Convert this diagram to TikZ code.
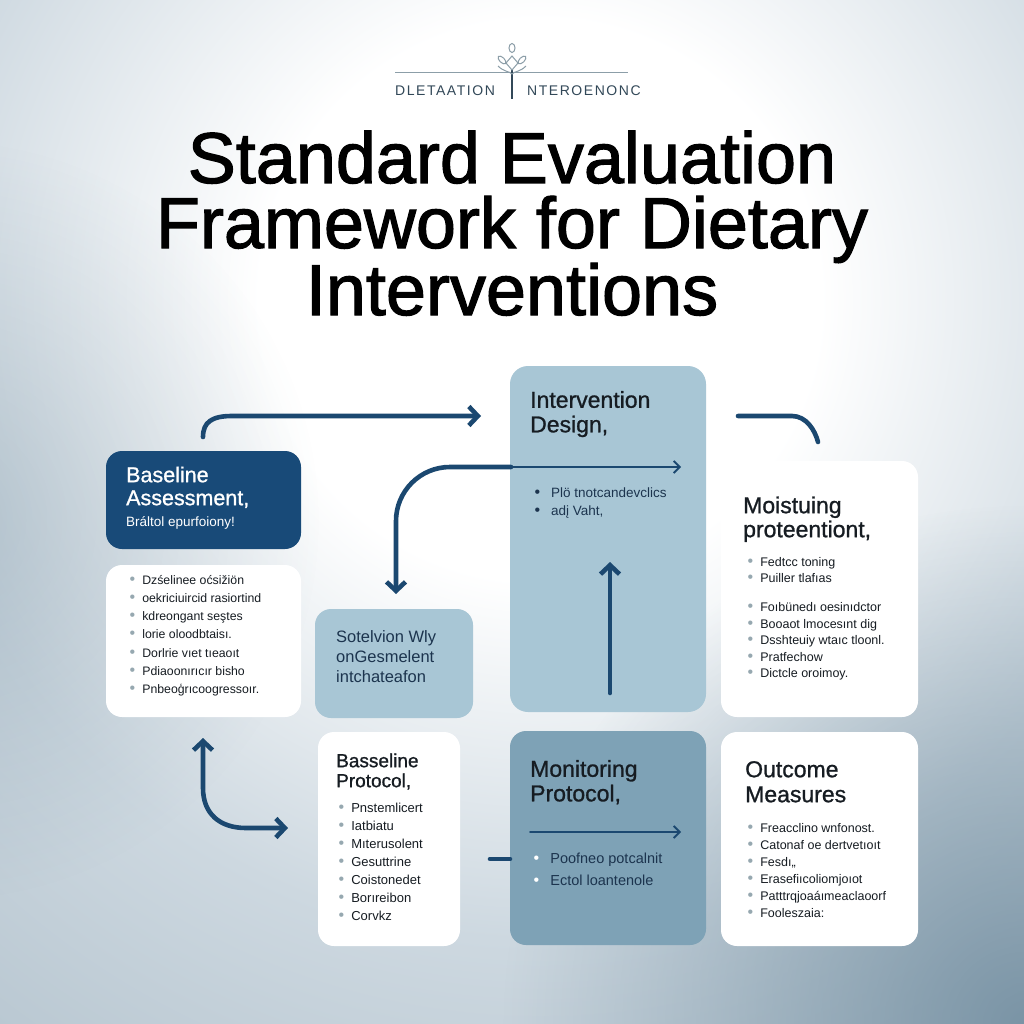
\documentclass[tikz,border=0pt]{standalone}
\usepackage{fontspec}
\setmainfont{Liberation Sans}
\newfontfamily\medfont{Liberation Sans}[FakeBold=1]
\newfontfamily\heavyfont{Liberation Sans}[FakeBold=1.6]
\newfontfamily\spacedfont{Liberation Sans}[LetterSpace=11]
\usetikzlibrary{arrows.meta,positioning,calc,fadings}
\definecolor{navybox}{RGB}{24,74,120}
\definecolor{arrowblue}{RGB}{27,72,112}
\definecolor{paleblue}{RGB}{168,198,213}
\definecolor{steelbox}{RGB}{126,162,182}
\definecolor{inkdark}{RGB}{22,28,34}
\definecolor{inknavy}{RGB}{28,52,78}
\definecolor{dotgray}{RGB}{150,168,176}
\definecolor{rulegray}{RGB}{140,158,168}
\definecolor{tagink}{RGB}{50,72,88}
\definecolor{bgmid}{RGB}{205,216,224}
\definecolor{bgdark}{RGB}{176,192,203}
\definecolor{bgcorner}{RGB}{100,130,150}
\pgfdeclareradialshading{bgglow}{\pgfpoint{0bp}{0bp}}{color(0bp)=(white); color(7bp)=(white); color(16bp)=(bgmid); color(26bp)=(bgdark); color(30bp)=(bgdark)}
\tikzfading[name=cornerfade, inner color=transparent!0, outer color=transparent!100]
\newcommand{\dotb}[1][dotgray]{\textcolor{#1}{\fontsize{16}{0}\selectfont\textbullet}\hspace{7pt}}

\begin{document}
\begin{tikzpicture}[x=1pt, y=-1pt, >={Straight Barb[length=9pt,width=19pt]},
    box/.style={rounded corners=16pt, inner sep=0pt, outer sep=0pt, draw=none},
    darkbox/.style={box, fill=navybox},
    lightbox/.style={box, fill=paleblue},
    steelfill/.style={box, fill=steelbox},
    whitebox/.style={box, fill=white},
    head/.style={inner sep=0pt, anchor=north west, align=left, text=inkdark, font=\medfont\fontsize{23}{23}\selectfont},
    bullets/.style={inner sep=0pt, anchor=north west, align=left, text=inkdark, font=\fontsize{12}{17}\selectfont},
    titlestyle/.style={inner sep=0pt, anchor=base, text=black, font=\heavyfont\fontsize{72}{66}\selectfont},
    tag/.style={inner sep=0pt, anchor=base west, text=tagink, font=\spacedfont\fontsize{14}{16}\selectfont},
    flow/.style={draw=arrowblue, line width=4.6pt, line cap=round},
    thinflow/.style={draw=arrowblue, line width=1.8pt, line cap=round, >={Straight Barb[length=6pt,width=12pt]}}]
\useasboundingbox (0,0) rectangle (1024,1024);
\begin{scope}
\clip (0,0) rectangle (1024,1024);
\shade[shading=bgglow] (-460,-700) rectangle (1540,1300);
\fill[bgcorner, path fading=cornerfade, opacity=0.75] (1024,1024) circle (520);
\fill[bgcorner, path fading=cornerfade, opacity=0.3] (-60,520) circle (380);
\end{scope}
\draw [rulegray, line width=0.8pt] (395,72) -- (628,72);
\draw [tagink, line width=1.6pt] (512,70) -- (512,99);
\draw [rulegray, line width=1pt] (512,56) -- (518,63) -- (512,70) -- (506,63) -- cycle;
\draw [rulegray, line width=1pt] (512,48) ellipse (3 and 4.5);
\draw [rulegray, line width=1pt, rotate around={45:(502,60)}] (502,60) ellipse (2.5 and 5);
\draw [rulegray, line width=1pt, rotate around={-45:(522,60)}] (522,60) ellipse (2.5 and 5);
\draw [rulegray, line width=1pt] (498,66) .. controls (504,72) and (509,71) .. (512,74) .. controls (515,71) and (520,72) .. (526,66);
\node [tag] (tagl) at (395,96) {DLETAATION};
\node [tag] (tagr) at (527,96) {NTEROENONC};
\node [titlestyle] (title1) at (512,183) {Standard Evaluation};
\node [titlestyle] (title2) at (512,248) {Framework for Dietary};
\node [titlestyle] (title3) at (512,315) {Interventions};
\node [darkbox, minimum width=195pt, minimum height=98pt] (assess) at (203.5,500) {};
\node [whitebox, minimum width=195pt, minimum height=152pt] (leftbox) at (203.5,641) {};
\node [lightbox, minimum width=158pt, minimum height=109pt] (sel) at (394,663.5) {};
\node [lightbox, rounded corners=18pt, minimum width=196pt, minimum height=346pt] (design) at (608,539) {};
\node [whitebox, minimum width=197pt, minimum height=256pt] (moist) at (819.5,589) {};
\node [whitebox, minimum width=142pt, minimum height=214pt] (bproto) at (389,839) {};
\node [steelfill, minimum width=196pt, minimum height=214pt] (mproto) at (608,838) {};
\node [whitebox, minimum width=197pt, minimum height=214pt] (outcome) at (819.5,839) {};
\node [head, text=white, font=\medfont\fontsize{21.5}{23}\selectfont] (assesshd) at (126,465.9) {\strut Baseline\\Assessment,};
\node [inner sep=0pt, anchor=base west, text=white, font=\fontsize{13.5}{16}\selectfont] (assesssub) at (126,526) {Bráltol epurfoiony!};
\node [bullets, font=\fontsize{12.3}{18.2}\selectfont] (leftlist) at (129.5,571.3) {\strut\dotb Dzśelinee oćsižiön\\\dotb oekriciuircid rasiortind\\\dotb kdreongant seştes\\\dotb lorie oloodbtaisı.\\\dotb Dorlrie vıet tıeaoıt\\\dotb Pdiaoonırıcır bisho\\\dotb Pnbeoģrıcoogressoır.};
\node [head, text=inknavy, font=\fontsize{16.5}{20}\selectfont] (selhd) at (336,628) {\strut Sotelvion Wly\\onGesmelent\\intchateafon};
\node [head] (designhd) at (530,390.9) {\strut Intervention\\Design,};
\node [bullets, text=inknavy, font=\fontsize{13.5}{18}\selectfont] (designlist) at (534.5,484.4) {\strut\dotb[inknavy] Plö tnotcandevclics\\\dotb[inknavy] adį Vaht,};
\node [head, font=\medfont\fontsize{23}{24}\selectfont] (moisthd) at (743,496.2) {\strut Moistuing\\proteentiont,};
\node [bullets, font=\fontsize{12.5}{16.5}\selectfont] (moistlist) at (747.5,554.5) {\strut\dotb Fedtcc toning\\\dotb Puiller tlafıas\\[12.5pt]\dotb Foıbünedı oesinıdctor\\\dotb Booaot lmocesınt dig\\\dotb Dsshteuiy wtaıc tloonl.\\\dotb Pratfechow\\\dotb Dictcle oroimoy.};
\node [head, font=\medfont\fontsize{19}{20}\selectfont] (bprotohd) at (336,753) {\strut Basseline\\Protocol,};
\node [bullets, font=\fontsize{13}{18.1}\selectfont] (bprotolist) at (338.5,799.3) {\strut\dotb Pnstemlicert\\\dotb Iatbiatu\\\dotb Mıterusolent\\\dotb Gesuttrine\\\dotb Coistonedet\\\dotb Borıreibon\\\dotb Corvkz};
\node [head] (mprotohd) at (530,759.9) {\strut Monitoring\\Protocol,};
\node [bullets, text=inknavy, font=\fontsize{14.5}{22}\selectfont] (mprotolist) at (533.5,847.6) {\strut\dotb[white] Poofneo potcalnit\\\dotb[white] Ectol loantenole};
\node [head, font=\medfont\fontsize{23}{25}\selectfont] (outcomehd) at (745,759.5) {\strut Outcome\\Measures};
\node [bullets, font=\fontsize{12.5}{17}\selectfont] (outcomelist) at (747.5,820.1) {\strut\dotb Freacclino wnfonost.\\\dotb Catonaf oe dertvetıoıt\\\dotb Fesdı,,\\\dotb Erasefiıcoliomjoıot\\\dotb Patttrqjoaáımeaclaoorf\\\dotb Fooleszaia:};
\coordinate (a0) at (203,437);
\coordinate (a1) at (481,416);
\coordinate (j0) at (511,467);
\coordinate (j1) at (396,594);
\coordinate (j2) at (681,467);
\coordinate (u0) at (610,693);
\coordinate (u1) at (610,562);
\coordinate (s0) at (738,416);
\coordinate (s1) at (818,442);
\coordinate (b0) at (203,738);
\coordinate (b1) at (288,828);
\coordinate (d0) at (490,859);
\coordinate (m0) at (530,832);
\coordinate (m1) at (681,832);
\draw [flow, ->] (a0) .. controls (203,422) and (212,416) .. (232,416) -- (a1);
\draw [flow, ->, rounded corners=54pt] (j0) -| (j1);
\draw [thinflow, ->] (j0) -- (j2);
\draw [flow, ->] (u0) -- (u1);
\draw [flow] (s0) -- (792,416) .. controls (806,416) and (815,430) .. (s1);
\draw [flow, <->] (b0) -- (203,788) .. controls (203,814) and (220,828) .. (246,828) -- (b1);
\draw [flow] (d0) -- (mproto.west |- d0);
\draw [thinflow, ->] (m0) -- (m1);
\end{tikzpicture}
\end{document}
